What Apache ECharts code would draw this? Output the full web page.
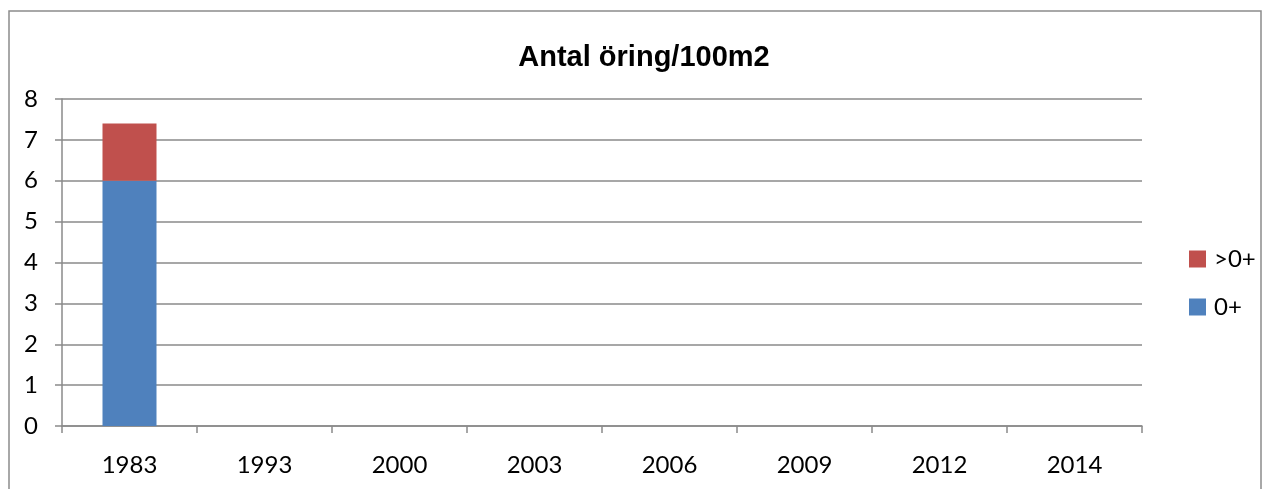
<!DOCTYPE html>
<html>
<head>
<meta charset="utf-8">
<script src="https://cdn.jsdelivr.net/npm/echarts@6/dist/echarts.min.js"></script>
<style>
  html, body { margin: 0; padding: 0; background: #fff; }
  #chart { width: 1262px; height: 489px; }
</style>
</head>
<body>
<div id="chart"></div>
<script>
var years = ['1983', '1993', '2000', '2003', '2006', '2009', '2012', '2014'];
var young = [6, null, null, null, null, null, null, null];   // 0+
var older = [1.4, null, null, null, null, null, null, null]; // >0+
var yTicks = [0, 1, 2, 3, 4, 5, 6, 7, 8];

var chart = echarts.init(document.getElementById('chart'));
var labelFont = 'Lato, "Open Sans", sans-serif';
var gray = '#8a8a8a';

var option = {
    animation: false,
    title: {
        text: 'Antal öring/100m2',
        left: 639,
        top: 38,
        textAlign: 'center',
        textStyle: {
            fontFamily: '"Liberation Sans", Arial, sans-serif',
            fontWeight: 'bold',
            fontSize: 29,
            color: '#000'
        }
    },
    graphic: [{
        type: 'rect',
        shape: { x: 9, y: 11, width: 1252, height: 500 },
        style: { fill: 'none', stroke: '#8c8c8c', lineWidth: 1.5 },
        silent: true
    }],
    legend: {
        orient: 'vertical',
        left: 1184,
        top: 242,
        itemWidth: 17,
        itemHeight: 17,
        itemGap: 24,
        icon: 'rect',
        data: ['>0+', '0+'],
        textStyle: { fontFamily: labelFont, fontSize: 24, color: '#000', padding: [0, 0, 0, 3] }
    },
    grid: {
        left: 62,
        right: 120,
        top: 99,
        bottom: 63,
        containLabel: false
    },
    xAxis: {
        type: 'category',
        data: years,
        axisLine: { show: true, lineStyle: { color: gray, width: 1.5 } },
        axisTick: { show: true, length: 7, lineStyle: { color: gray, width: 1.5 } },
        axisLabel: { margin: 27, fontFamily: labelFont, fontSize: 24, color: '#000' }
    },
    yAxis: {
        type: 'value',
        min: yTicks[0],
        max: yTicks[yTicks.length - 1],
        interval: 1,
        axisLine: { show: true, lineStyle: { color: gray, width: 1.5 } },
        axisTick: { show: true, length: 7, lineStyle: { color: gray, width: 1.5 } },
        axisLabel: { margin: 24, fontFamily: labelFont, fontSize: 24, color: '#000' },
        splitLine: { lineStyle: { color: gray, width: 1.5 } }
    },
    series: [
        {
            name: '0+',
            type: 'bar',
            stack: 'total',
            barWidth: '40%',
            data: young,
            itemStyle: { color: '#4F81BD' }
        },
        {
            name: '>0+',
            type: 'bar',
            stack: 'total',
            barWidth: '40%',
            data: older,
            itemStyle: { color: '#C0504D' }
        }
    ]
};
chart.setOption(option);
</script>
</body>
</html>
